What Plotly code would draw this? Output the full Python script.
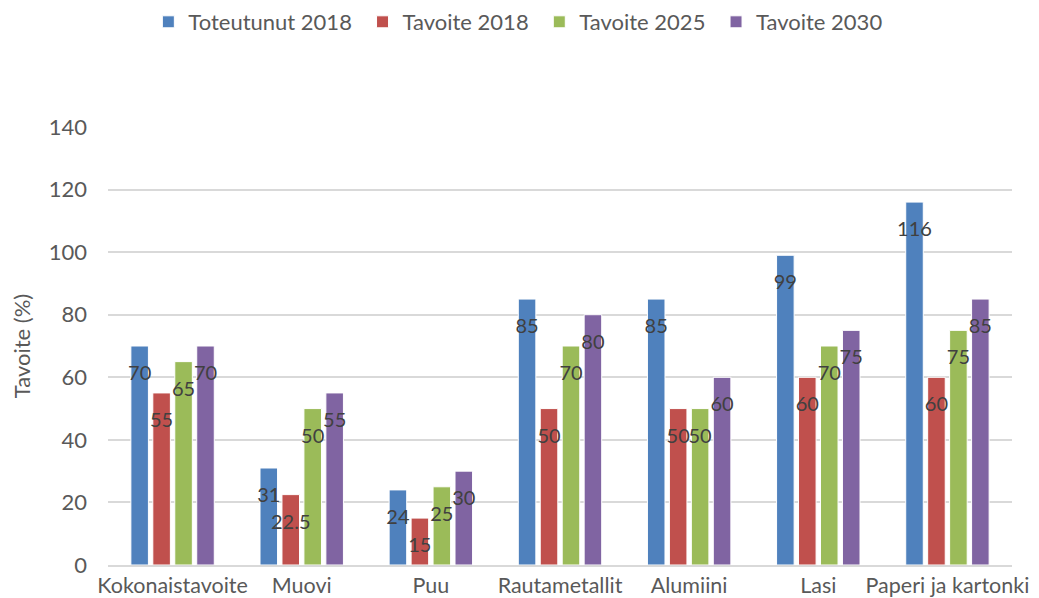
import plotly.graph_objects as go

categories = ["Kokonaistavoite", "Muovi", "Puu", "Rautametallit", "Alumiini", "Lasi", "Paperi ja kartonki"]
series_names = ["Toteutunut 2018", "Tavoite 2018", "Tavoite 2025", "Tavoite 2030"]
toteutunut_2018 = [70, 31, 24, 85, 85, 99, 116]
tavoite_2018 = [55, 22.5, 15, 50, 50, 60, 60]
tavoite_2025 = [65, 50, 25, 70, 50, 70, 75]
tavoite_2030 = [70, 55, 30, 80, 60, 75, 85]
y_ticks = [0, 20, 40, 60, 80, 100, 120, 140]

colors = ["#4F81BD", "#C0504D", "#9BBB59", "#8064A2"]
FONT = "Lato"
SIZE = 22
LABEL_SIZE = 20
GAP = 0.32

fig = go.Figure()

series = [toteutunut_2018, tavoite_2018, tavoite_2025, tavoite_2030]
for i, (name, values) in enumerate(zip(series_names, series)):
    # a little trailing space widens the gap between legend entries
    pad = "\u00a0" if i < len(series) - 1 else ""
    fig.add_trace(
        go.Bar(
            x=categories,
            y=values,
            name=name + pad,
            offsetgroup=str(i),
            marker=dict(color=colors[i], line=dict(color="white", width=1)),
            hoverinfo="skip",
        )
    )

# Value labels, grouped the same way as the bars (transparent marker pushes text down)
for i, values in enumerate(series):
    fig.add_trace(
        go.Scatter(
            x=categories,
            y=values,
            offsetgroup=str(i),
            mode="markers+text",
            text=[f"{v:g}" for v in values],
            textposition="bottom center",
            textfont=dict(family=FONT, size=LABEL_SIZE, color="#404040"),
            marker=dict(size=29, color="rgba(0,0,0,0)"),
            showlegend=False,
            hoverinfo="skip",
            cliponaxis=False,
        )
    )

# page body has an 8px margin, so the figure is sized to fit inside the window
fig.update_layout(
    width=1031,
    height=590,
    barmode="group",
    bargap=GAP,
    bargroupgap=0.2,
    scattermode="group",
    scattergap=GAP,
    plot_bgcolor="white",
    paper_bgcolor="white",
    font=dict(family=FONT, size=SIZE, color="#595959"),
    margin=dict(l=100, r=27, t=119, b=33, autoexpand=False),
    legend=dict(
        orientation="h",
        yref="container",
        y=1 - 14 / 590,
        yanchor="middle",
        x=0.495,
        xref="container",
        xanchor="center",
        font=dict(family=FONT, size=SIZE, color="#595959"),
        itemwidth=30,
        traceorder="normal",
    ),
    xaxis=dict(
        showgrid=False,
        showline=True,
        linecolor="#D9D9D9",
        linewidth=1.5,
        ticks="",
        ticklabelstandoff=0,
        automargin=False,
        tickfont=dict(family=FONT, size=21.5, color="#595959"),
    ),
    yaxis=dict(
        range=[0, 140],
        tickvals=y_ticks,
        showgrid=True,
        gridcolor="#D9D9D9",
        gridwidth=1.5,
        zeroline=False,
        ticks="",
        ticklabelstandoff=20,
        automargin=False,
        tickfont=dict(family=FONT, size=SIZE, color="#595959"),
        title=dict(text="Tavoite (%)", font=dict(family=FONT, size=SIZE, color="#595959"), standoff=12),
    ),
)

fig.write_html("out.html")
